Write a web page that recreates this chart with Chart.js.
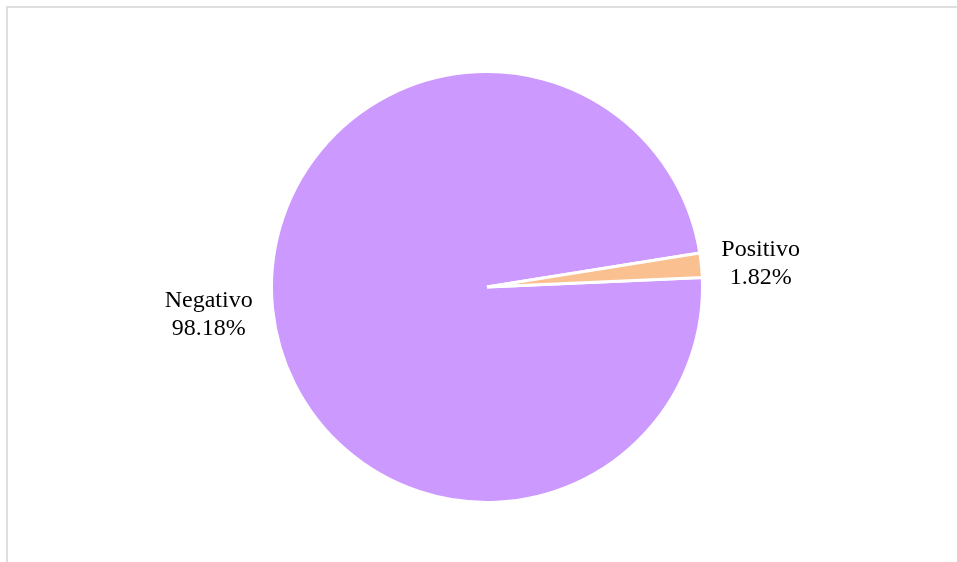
<!DOCTYPE html>
<html>
<head>
<meta charset="utf-8">
<script src="https://cdn.jsdelivr.net/npm/chart.js@4/dist/chart.umd.min.js"></script>
<style>
  html, body { margin: 0; padding: 0; background: #fff; }
  #wrap { position: relative; width: 957px; height: 562px; }
  #frame { position: absolute; left: 6px; top: 6px; right: 0; bottom: 0;
           border-left: 2px solid #dedede; border-top: 2px solid #dedede; }
  #chart { position: absolute; left: 0; top: 0; }
</style>
</head>
<body>
<div id="wrap">
  <div id="frame"></div>
  <canvas id="chart" width="957" height="562"></canvas>
</div>
<script>
// datos del grafico
var categories = ['Negativo', 'Positivo'];
var values = [98.18, 1.82];
var pctLabels = ['98.18%', '1.82%'];
var colors = ['#CC99FF', '#FAC090'];

// etiquetas fuera del pastel, estilo Excel
var outsideLabels = {
  id: 'outsideLabels',
  afterDatasetsDraw: function(chart){
    var ctx = chart.ctx;
    var meta = chart.getDatasetMeta(0);
    ctx.save();
    ctx.font = '24px "Liberation Serif"';
    ctx.fillStyle = '#000';
    ctx.textAlign = 'center';
    ctx.textBaseline = 'middle';
    meta.data.forEach(function(arc, i){
      var p = arc.getProps(['x', 'y', 'startAngle', 'endAngle', 'outerRadius'], true);
      var mid = (p.startAngle + p.endAngle) / 2;
      var r = p.outerRadius + 20;
      var ax = p.x + Math.cos(mid) * r;
      var ay = p.y + Math.sin(mid) * r;
      var lines = [categories[i], pctLabels[i]];
      var w = Math.max.apply(null, lines.map(function(t){ return ctx.measureText(t).width; }));
      var lh = 28;
      var cx = Math.cos(mid) >= 0 ? ax + w / 2 : ax - w / 2;
      var top = ay - lh * lines.length / 2 + lh / 2 + (Math.sin(mid) > 0 ? 4 : 0);
      lines.forEach(function(t, k){
        ctx.fillText(t, cx, top + k * lh);
      });
    });
    ctx.restore();
  }
};

new Chart(document.getElementById('chart'), {
  type: 'pie',
  data: {
    labels: categories,
    datasets: [{
      data: values,
      backgroundColor: colors,
      borderColor: '#ffffff',
      borderWidth: 3,
      hoverOffset: 0
    }]
  },
  options: {
    responsive: false,
    animation: false,
    rotation: 87.5,
    layout: { padding: { left: 72, right: 55, top: 70, bottom: 58 } },
    plugins: {
      legend: { display: false },
      tooltip: { enabled: false }
    }
  },
  plugins: [outsideLabels]
});
</script>
</body>
</html>
